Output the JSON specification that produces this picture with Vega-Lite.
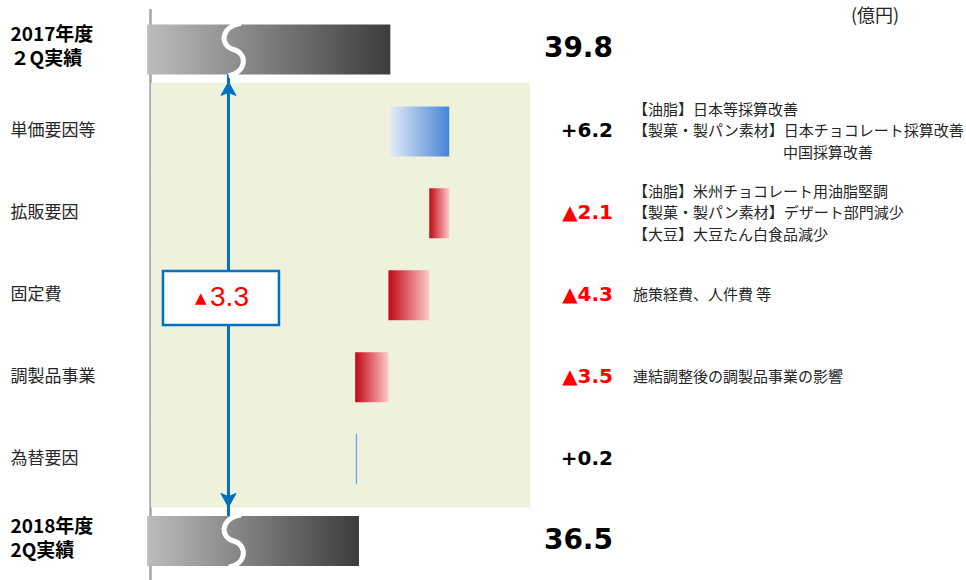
{
  "$schema": "https://vega.github.io/schema/vega-lite/v6.json",
  "width": 816,
  "height": 580,
  "autosize": {"type": "none"},
  "padding": {"left": 150, "top": 0, "right": 0, "bottom": 0},
  "background": "white",
  "config": {"view": {"stroke": null}, "font": "Noto Sans CJK JP"},
  "data": {
    "values": [
      {"item": "2017年度|２Q実績", "kind": "total", "start": null, "end": 39.8, "label": "39.8", "note": []},
      {"item": "単価要因等", "kind": "up", "start": 39.8, "end": 46.0, "label": "+6.2", "note": ["【油脂】日本等採算改善", "【製菓・製パン素材】日本チョコレート採算改善", "\u200b　　　　　　　　　　中国採算改善"]},
      {"item": "拡販要因", "kind": "down", "start": 46.0, "end": 43.9, "label": "▲2.1", "note": ["【油脂】米州チョコレート用油脂堅調", "【製菓・製パン素材】デザート部門減少", "【大豆】大豆たん白食品減少"]},
      {"item": "固定費", "kind": "down", "start": 43.9, "end": 39.6, "label": "▲4.3", "note": ["施策経費、人件費 等"]},
      {"item": "調製品事業", "kind": "down", "start": 39.6, "end": 36.1, "label": "▲3.5", "note": ["連結調整後の調製品事業の影響"]},
      {"item": "為替要因", "kind": "up", "start": 36.1, "end": 36.3, "label": "+0.2", "note": []},
      {"item": "2018年度|2Q実績", "kind": "total", "start": null, "end": 36.5, "label": "36.5", "note": []}
    ]
  },
  "encoding": {
    "y": {
      "field": "item",
      "type": "nominal",
      "sort": null,
      "scale": {"type": "band", "domain": ["2017年度|２Q実績", "単価要因等", "拡販要因", "固定費", "調製品事業", "為替要因", "2018年度|2Q実績"], "range": [8.5, 582], "paddingInner": 0, "paddingOuter": 0},
      "axis": {
        "title": null,
        "orient": "left",
        "ticks": false,
        "tickSize": 0,
        "zindex": 0,
        "domainColor": "#A6A6A6",
        "domainWidth": 2.5,
        "labelAlign": "left",
        "labelBaseline": "middle",
        "labelPadding": 140,
        "labelLimit": 300,
        "labelExpr": "split(datum.label, '|')",
        "labelLineHeight": 24,
        "labelFont": "Noto Sans CJK JP",
        "labelOffset": {"condition": {"test": "indexof(datum.value, '|') >= 0", "value": -14}, "value": 0},
        "labelFontSize": {"condition": {"test": "indexof(datum.value, '|') >= 0", "value": 19}, "value": 17},
        "labelFontWeight": {"condition": {"test": "indexof(datum.value, '|') >= 0", "value": "bold"}, "value": "normal"},
        "labelColor": {"condition": {"test": "indexof(datum.value, '|') >= 0", "value": "#000000"}, "value": "#262626"}
      }
    }
  },
  "layer": [
    {
      "transform": [{"filter": "datum.kind !== 'total'"}],
      "mark": {"type": "bar", "color": "#EEF2DD", "height": {"band": 1.18}},
      "encoding": {
        "x": {"datum": 54.5, "type": "quantitative", "scale": {"domain": [14.5, 100.4], "zero": false, "nice": false}, "axis": null},
        "x2": {"datum": 14.6}
      }
    },
    {
      "data": {"values": [{}]},
      "mark": {"type": "rule", "color": "#0070C0", "strokeWidth": 3},
      "encoding": {
        "x": {"datum": 22.76, "type": "quantitative", "scale": {"domain": [14.5, 100.4], "zero": false, "nice": false}, "axis": null},
        "y": {"datum": "2017年度|２Q実績"},
        "y2": {"datum": "2018年度|2Q実績"}
      }
    },
    {
      "transform": [{"filter": "datum.kind === 'total'"}],
      "mark": {"type": "bar", "height": 50, "fill": {"gradient": "linear", "x1": 0, "x2": 1, "y1": 0, "y2": 0, "stops": [{"offset": 0, "color": "#BDBDBD"}, {"offset": 1, "color": "#3C3C3C"}]}},
      "encoding": {
        "x": {"field": "end", "type": "quantitative", "scale": {"domain": [14.5, 100.4], "zero": false, "nice": false}, "axis": null},
        "x2": {"datum": 14.2}
      }
    },
    {
      "transform": [{"filter": "datum.kind === 'up'"}],
      "mark": {"type": "bar", "height": 50, "fill": {"gradient": "linear", "x1": 0, "x2": 1, "y1": 0, "y2": 0, "stops": [{"offset": 0, "color": "#E2EAF7"}, {"offset": 1, "color": "#4585D6"}]}},
      "encoding": {
        "x": {"field": "start", "type": "quantitative", "scale": {"domain": [14.5, 100.4], "zero": false, "nice": false}, "axis": null},
        "x2": {"field": "end"}
      }
    },
    {
      "transform": [{"filter": "datum.kind === 'down'"}],
      "mark": {"type": "bar", "height": 50, "fill": {"gradient": "linear", "x1": 0, "x2": 1, "y1": 0, "y2": 0, "stops": [{"offset": 0, "color": "#C20814"}, {"offset": 1, "color": "#FFC8C8"}]}},
      "encoding": {
        "x": {"field": "start", "type": "quantitative", "scale": {"domain": [14.5, 100.4], "zero": false, "nice": false}, "axis": null},
        "x2": {"field": "end"}
      }
    },
    {
      "transform": [{"filter": "datum.kind === 'total'"}],
      "mark": {"type": "point", "shape": "M 0.3 -1.05 C -0.55 -0.9 -0.55 -0.15 0 0 C 0.55 0.15 0.55 0.9 -0.2 1.05", "size": 2500, "filled": false, "stroke": "#FFFFFF", "strokeWidth": 5, "opacity": 1},
      "encoding": {
        "x": {"datum": 23.3, "type": "quantitative", "scale": {"domain": [14.5, 100.4], "zero": false, "nice": false}, "axis": null}
      }
    },
    {
      "data": {"values": [{}]},
      "mark": {"type": "point", "shape": "M 0 1.3 L 0.3 1.84 L 0 1.72 L -0.3 1.84 Z", "size": 2500, "filled": true, "fill": "#0070C0", "stroke": "#0070C0", "strokeWidth": 1, "opacity": 1},
      "encoding": {
        "x": {"datum": 22.76, "type": "quantitative", "scale": {"domain": [14.5, 100.4], "zero": false, "nice": false}, "axis": null},
        "y": {"datum": "2017年度|２Q実績"}
      }
    },
    {
      "data": {"values": [{}]},
      "mark": {"type": "point", "shape": "M 0 -1.36 L 0.3 -1.9 L 0 -1.78 L -0.3 -1.9 Z", "size": 2500, "filled": true, "fill": "#0070C0", "stroke": "#0070C0", "strokeWidth": 1, "opacity": 1},
      "encoding": {
        "x": {"datum": 22.76, "type": "quantitative", "scale": {"domain": [14.5, 100.4], "zero": false, "nice": false}, "axis": null},
        "y": {"datum": "2018年度|2Q実績"}
      }
    },
    {
      "data": {"values": [{}]},
      "mark": {"type": "point", "shape": "M -2.32 -0.97 H 2.32 V 1.19 H -2.32 Z", "size": 2500, "filled": true, "fill": "#FFFFFF", "stroke": "#0070C0", "strokeWidth": 2.5, "opacity": 1},
      "encoding": {
        "x": {"datum": 21.97, "type": "quantitative", "scale": {"domain": [14.5, 100.4], "zero": false, "nice": false}, "axis": null},
        "y": {"datum": "固定費"}
      }
    },
    {
      "data": {"values": [{}]},
      "mark": {"type": "text", "text": "▲", "font": "DejaVu Sans", "fontSize": 15, "color": "#FF0000", "align": "left", "baseline": "middle", "dy": 3},
      "encoding": {
        "x": {"datum": 19.24, "type": "quantitative", "scale": {"domain": [14.5, 100.4], "zero": false, "nice": false}, "axis": null},
        "y": {"datum": "固定費"}
      }
    },
    {
      "data": {"values": [{}]},
      "mark": {"type": "text", "text": "3.3", "font": "Liberation Sans", "fontSize": 28, "color": "#FF0000", "align": "left", "baseline": "middle", "dy": 3},
      "encoding": {
        "x": {"datum": 20.82, "type": "quantitative", "scale": {"domain": [14.5, 100.4], "zero": false, "nice": false}, "axis": null},
        "y": {"datum": "固定費"}
      }
    },
    {
      "mark": {"type": "text", "font": "DejaVu Sans", "fontWeight": "bold", "align": "right", "baseline": "middle"},
      "encoding": {
        "x": {"datum": 63.24, "type": "quantitative", "scale": {"domain": [14.5, 100.4], "zero": false, "nice": false}, "axis": null},
        "text": {"field": "label"},
        "size": {"condition": {"test": "datum.kind === 'total'", "value": 28}, "value": 20},
        "color": {"condition": {"test": "datum.kind === 'down'", "value": "#FF0000"}, "value": "#000000"}
      }
    },
    {
      "transform": [{"filter": "length(datum.note) === 3"}],
      "mark": {"type": "text", "font": "Noto Sans CJK JP", "fontSize": 15, "lineHeight": 21.5, "align": "left", "baseline": "middle", "color": "#262626", "dy": -21.5},
      "encoding": {
        "x": {"datum": 65.34, "type": "quantitative", "scale": {"domain": [14.5, 100.4], "zero": false, "nice": false}, "axis": null},
        "text": {"field": "note"}
      }
    },
    {
      "transform": [{"filter": "length(datum.note) === 1"}],
      "mark": {"type": "text", "font": "Noto Sans CJK JP", "fontSize": 15, "lineHeight": 21.5, "align": "left", "baseline": "middle", "color": "#262626"},
      "encoding": {
        "x": {"datum": 65.34, "type": "quantitative", "scale": {"domain": [14.5, 100.4], "zero": false, "nice": false}, "axis": null},
        "text": {"field": "note"}
      }
    },
    {
      "data": {"values": [{}]},
      "mark": {"type": "text", "text": "(億円)", "font": "Noto Sans CJK JP", "fontSize": 18, "align": "center", "baseline": "middle", "color": "#262626", "dy": -32},
      "encoding": {
        "x": {"datum": 90.82, "type": "quantitative", "scale": {"domain": [14.5, 100.4], "zero": false, "nice": false}, "axis": null},
        "y": {"datum": "2017年度|２Q実績"}
      }
    }
  ]
}
